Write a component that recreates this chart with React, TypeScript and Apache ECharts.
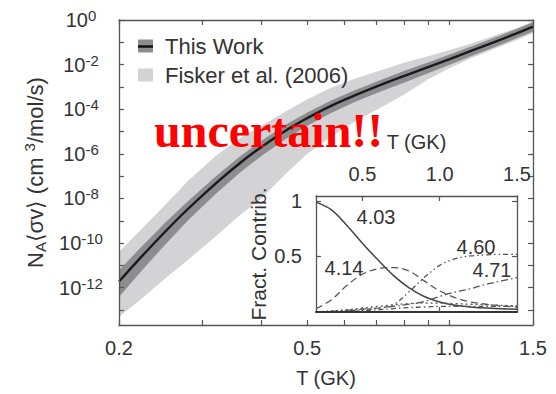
import React, { useEffect, useRef } from "react";
import * as echarts from "echarts";

// ---- Main panel data (temperature in GK, rates as log10 of N_A<σv>) ----
const temperatureGK = [0.2, 0.22, 0.25, 0.28, 0.32, 0.36, 0.4, 0.45, 0.5, 0.56, 0.63, 0.71, 0.8, 0.9, 1.0, 1.12, 1.25, 1.38, 1.5];
const log10RateThisWork = [-11.72, -10.75, -9.5, -8.46, -7.33, -6.42, -5.69, -4.96, -4.4, -3.86, -3.38, -2.93, -2.51, -2.11, -1.75, -1.35, -0.97, -0.61, -0.3];
const log10RateThisWorkHigh = [-11.22, -10.3, -9.1, -8.11, -7.01, -6.12, -5.41, -4.7, -4.15, -3.62, -3.15, -2.71, -2.29, -1.9, -1.55, -1.15, -0.77, -0.41, -0.1];
const log10RateThisWorkLow = [-12.42, -11.39, -10.08, -8.98, -7.8, -6.85, -6.09, -5.33, -4.74, -4.18, -3.68, -3.23, -2.81, -2.39, -2.01, -1.59, -1.2, -0.83, -0.52];
const log10RateFiskerHigh = [-10.4, -9.5, -8.3, -7.2, -6.1, -5.3, -4.75, -4.1, -3.55, -3.05, -2.63, -2.27, -1.92, -1.62, -1.35, -1.03, -0.68, -0.38, -0.06];
const log10RateFiskerLow = [-13.3, -12.6, -11.6, -10.75, -9.7, -8.75, -8.0, -6.9, -6.0, -5.25, -4.55, -3.95, -3.35, -2.65, -2.15, -1.68, -1.27, -0.92, -0.58];

const xTickValuesGK = [0.2, 0.3, 0.4, 0.5, 0.6, 0.7, 0.8, 0.9, 1.0, 1.5];
const xLabelValuesGK = [0.2, 0.5, 1.0, 1.5];
const yTickExponents = [-13, -12, -11, -10, -9, -8, -7, -6, -5, -4, -3, -2, -1, 0];
const yLabelExponents = [-12, -10, -8, -6, -4, -2, 0];

// ---- Inset data: fractional contributions ----
const insetT = [0.2, 0.3, 0.4, 0.5, 0.6, 0.7, 0.8, 0.9, 1.0, 1.1, 1.2, 1.3, 1.4, 1.5];
const frac403 = [0.99, 0.92, 0.78, 0.62, 0.47, 0.33, 0.22, 0.14, 0.09, 0.06, 0.045, 0.035, 0.03, 0.025];
const frac414 = [0.03, 0.11, 0.24, 0.34, 0.39, 0.4, 0.37, 0.28, 0.19, 0.13, 0.09, 0.07, 0.055, 0.045];
const frac460 = [0.0, 0.005, 0.01, 0.02, 0.035, 0.065, 0.18, 0.31, 0.42, 0.48, 0.505, 0.515, 0.52, 0.52];
const frac471 = [0.0, 0.005, 0.015, 0.025, 0.035, 0.05, 0.07, 0.095, 0.14, 0.18, 0.21, 0.25, 0.28, 0.31];
const fracOtherA = [0.0, 0.01, 0.02, 0.035, 0.05, 0.065, 0.075, 0.08, 0.08, 0.075, 0.07, 0.065, 0.06, 0.055];
const fracOtherB = [0.0, 0.0, 0.005, 0.01, 0.02, 0.03, 0.04, 0.045, 0.05, 0.05, 0.05, 0.05, 0.05, 0.05];
const insetXTicks = [0.5, 1.0, 1.5];
const insetYTicks = [0.5, 1];

const FONT = '"Liberation Sans", Arial, Helvetica, sans-serif';
const TEXT = "#222";
const AXIS = "#555";

export default function App() {
  const ref = useRef<HTMLDivElement>(null);
  useEffect(() => {
    if (!ref.current) return;
    const chart = echarts.init(ref.current, null, { renderer: "svg" });
    const lx = temperatureGK.map((t) => Math.log10(t));
    const pairs = (ys: number[]) => lx.map((x, i) => [x, ys[i]]);
    const ipairs = (ys: number[]) => insetT.map((t, i) => [t, ys[i]]);

    const axisLine = { show: true, onZero: false, lineStyle: { color: AXIS, width: 1.3 } };
    const tickStyle = { color: AXIS, width: 1.2 };
    const mainXTicks = { show: true, inside: true, length: 5, customValues: xTickValuesGK.map((v) => Math.log10(v)), lineStyle: tickStyle };
    const mainYTicks = { show: true, inside: true, length: 5, customValues: yTickExponents, lineStyle: tickStyle };

    const band = (name: string, hi: number[], lo: number[], color: string) => ({
      name,
      type: "custom",
      xAxisIndex: 0,
      yAxisIndex: 0,
      silent: true,
      clip: true,
      z: 1,
      itemStyle: { color },
      data: lx.map((x, i) => [x, lo[i], hi[i]]),
      encode: { x: 0, y: [1, 2] },
      renderItem: (params: any, api: any) => {
        if (params.dataIndex !== 0) return null;
        const upper = lx.map((x, i) => api.coord([x, hi[i]]));
        const lower = lx.map((x, i) => api.coord([x, lo[i]])).reverse();
        return {
          type: "polygon",
          shape: { points: upper.concat(lower) },
          style: { fill: color, stroke: null },
        };
      },
    });

    const insetLine = (name: string, data: number[], type: any, color = "#555", width = 1.3) => ({
      name,
      type: "line",
      xAxisIndex: 2,
      yAxisIndex: 2,
      symbol: "none",
      smooth: 0.35,
      silent: true,
      data: ipairs(data),
      lineStyle: { color, width, type },
    });

    const option: any = {
      animation: false,
      backgroundColor: "#fff",
      textStyle: { fontFamily: FONT, color: TEXT },
      grid: [
        { left: 119, top: 20, right: 23, bottom: 69 },
        { left: 316, top: 196, width: 201, height: 116 },
      ],
      legend: {
        orient: "vertical",
        left: 138,
        top: 34,
        padding: 0,
        itemWidth: 15,
        itemHeight: 13,
        itemGap: 5,
        selectedMode: false,
        itemStyle: { borderWidth: 0 },
        textStyle: { fontSize: 22, color: "#333", fontFamily: FONT, lineHeight: 24, padding: [0, 0, 0, 7] },
        data: [
          { name: "This Work", icon: "rect" },
          { name: "Fisker et al. (2006)", icon: "rect" },
        ],
      },
      xAxis: [
        {
          type: "value",
          gridIndex: 0,
          position: "bottom",
          z: 10,
          min: Math.log10(0.2),
          max: Math.log10(1.5),
          axisLine,
          axisTick: mainXTicks,
          splitLine: { show: false },
          axisLabel: {
            customValues: xLabelValuesGK.map((v) => Math.log10(v)),
            formatter: (v: number) => Math.pow(10, v).toFixed(1),
            fontSize: 20,
            color: "#333",
            margin: 13,
            fontFamily: FONT,
          },
          name: "T (GK)",
          nameLocation: "middle",
          nameGap: 43,
          nameTextStyle: { fontSize: 20, color: "#333", fontFamily: FONT },
        },
        {
          type: "value",
          gridIndex: 0,
          position: "top",
          z: 10,
          min: Math.log10(0.2),
          max: Math.log10(1.5),
          axisLine,
          axisTick: mainXTicks,
          splitLine: { show: false },
          axisLabel: { show: false },
        },
        {
          type: "value",
          gridIndex: 1,
          position: "top",
          z: 10,
          min: 0.2,
          max: 1.5,
          axisLine,
          axisTick: { show: true, inside: true, length: 5, customValues: insetXTicks, lineStyle: tickStyle },
          splitLine: { show: false },
          axisLabel: {
            customValues: insetXTicks,
            formatter: (v: number) => v.toFixed(1),
            fontSize: 20,
            color: "#333",
            margin: 12,
            fontFamily: FONT,
          },
          name: "T (GK)",
          nameLocation: "middle",
          nameGap: 44,
          nameTextStyle: { fontSize: 20, color: "#333", fontFamily: FONT },
        },
        {
          type: "value",
          gridIndex: 1,
          position: "bottom",
          z: 10,
          min: 0.2,
          max: 1.5,
          axisLine: { show: true, onZero: false, lineStyle: { color: "#333", width: 2 } },
          axisTick: { show: true, inside: true, length: 5, customValues: insetXTicks, lineStyle: tickStyle },
          splitLine: { show: false },
          axisLabel: { show: false },
        },
      ],
      yAxis: [
        {
          type: "value",
          gridIndex: 0,
          position: "left",
          z: 10,
          min: -13.67,
          max: 0,
          axisLine,
          axisTick: mainYTicks,
          splitLine: { show: false },
          axisLabel: {
            customValues: yLabelExponents,
            formatter: (v: number) => `{b|10}{s|${v}}`,
            margin: 38,
            align: "center",
            rich: {
              b: { fontSize: 20, color: "#333", fontFamily: FONT, lineHeight: 24 },
              s: { fontSize: 15, color: "#333", fontFamily: FONT, verticalAlign: "top", lineHeight: 15 },
            },
          },
          name: "{n|N}{sub|A}{br|\u27E8}{n|\u03C3v}{br|\u27E9}{n| (cm }{sup|3}{n|/mol/s)}",
          nameLocation: "middle",
          nameRotate: 90,
          nameGap: 70,
          nameTextStyle: {
            rich: {
              n: { fontSize: 22, color: "#333", fontFamily: FONT, lineHeight: 26 },
              br: { fontSize: 22, color: "#333", fontFamily: '"DejaVu Sans", "Liberation Sans", sans-serif', lineHeight: 26 },
              sub: { fontSize: 15, color: "#333", fontFamily: FONT, verticalAlign: "bottom", lineHeight: 15 },
              sup: { fontSize: 15, color: "#333", fontFamily: FONT, verticalAlign: "top", lineHeight: 15 },
            },
          },
        },
        {
          type: "value",
          gridIndex: 0,
          position: "right",
          z: 10,
          min: -13.67,
          max: 0,
          axisLine,
          axisTick: mainYTicks,
          splitLine: { show: false },
          axisLabel: { show: false },
        },
        {
          type: "value",
          gridIndex: 1,
          position: "left",
          z: 10,
          min: 0,
          max: 1.045,
          axisLine,
          axisTick: { show: true, inside: true, length: 5, customValues: insetYTicks, lineStyle: tickStyle },
          splitLine: { show: false },
          axisLabel: {
            customValues: insetYTicks,
            formatter: (v: number) => String(v),
            fontSize: 20,
            color: "#333",
            margin: 14,
            fontFamily: FONT,
          },
          name: "Fract. Contrib.",
          nameLocation: "middle",
          nameRotate: 90,
          nameGap: 47,
          nameTextStyle: { fontSize: 21, color: "#333", fontFamily: FONT },
        },
        {
          type: "value",
          gridIndex: 1,
          position: "right",
          z: 10,
          min: 0,
          max: 1.045,
          axisLine,
          axisTick: { show: true, inside: true, length: 5, customValues: insetYTicks, lineStyle: tickStyle },
          splitLine: { show: false },
          axisLabel: { show: false },
        },
      ],
      series: [
        band("Fisker et al. (2006)", log10RateFiskerHigh, log10RateFiskerLow, "#d3d3d5"),
        band("This Work", log10RateThisWorkHigh, log10RateThisWorkLow, "#8d8d8f"),
        {
          name: "This Work rate",
          type: "line",
          xAxisIndex: 0,
          yAxisIndex: 0,
          z: 2,
          symbol: "none",
          smooth: 0.4,
          silent: true,
          data: pairs(log10RateThisWork),
          lineStyle: { color: "#1a1a1a", width: 2.4 },
        },
        insetLine("E=4.03", frac403, "solid", "#444", 1.5),
        insetLine("E=4.14", frac414, [7, 4]),
        insetLine("E=4.60", frac460, [5, 3, 1.5, 3, 1.5, 3]),
        insetLine("E=4.71", frac471, [7, 3, 1.5, 3]),
        insetLine("other A", fracOtherA, [2, 3]),
        insetLine("other B", fracOtherB, [5, 3, 1.5, 3]),
      ],
      graphic: [
        {
          type: "line",
          z: 100,
          shape: { x1: 138, y1: 46.5, x2: 153, y2: 46.5 },
          style: { stroke: "#111", lineWidth: 2.5 },
        },
        {
          type: "text",
          z: 100,
          style: {
            x: 154,
            y: 130,
            text: "uncertain!!",
            fill: "#ff0000",
            fontSize: 48,
            fontWeight: "bold",
            fontFamily: '"Liberation Serif", "Times New Roman", serif',
            verticalAlign: "middle",
            align: "left",
          },
        },
        { type: "text", z: 100, style: { x: 376, y: 217, text: "4.03", fill: "#333", fontSize: 20, fontFamily: FONT, align: "center", verticalAlign: "middle" } },
        { type: "text", z: 100, style: { x: 344, y: 268, text: "4.14", fill: "#333", fontSize: 20, fontFamily: FONT, align: "center", verticalAlign: "middle" } },
        { type: "text", z: 100, style: { x: 476, y: 247, text: "4.60", fill: "#333", fontSize: 20, fontFamily: FONT, align: "center", verticalAlign: "middle" } },
        { type: "text", z: 100, style: { x: 492, y: 270, text: "4.71", fill: "#333", fontSize: 20, fontFamily: FONT, align: "center", verticalAlign: "middle" } },
      ],
    };
    chart.setOption(option);
    return () => chart.dispose();
  }, []);
  return <div ref={ref} style={{ position: "absolute", left: 0, top: 0, width: 556, height: 394 }} />;
}
